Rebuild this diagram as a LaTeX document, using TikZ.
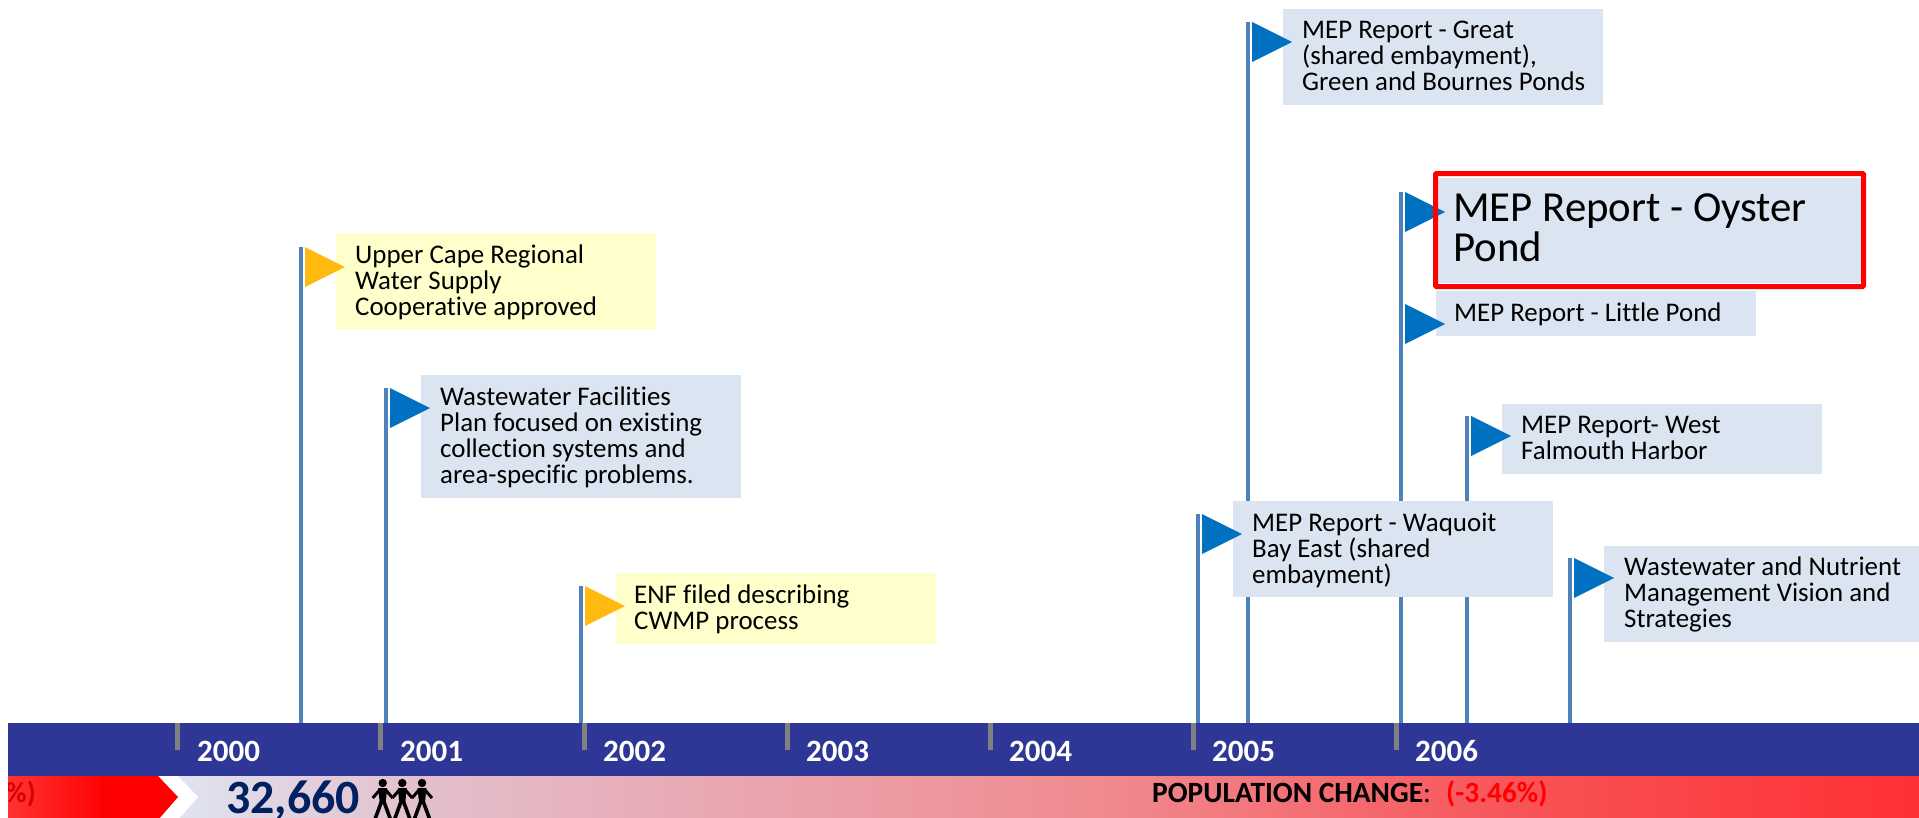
\documentclass[tikz,border=0pt]{standalone}
\usepackage{fontspec}
\setmainfont[Ligatures=NoCommon]{Carlito}
\definecolor{barblue}{HTML}{2E3696}
\definecolor{poleblue}{HTML}{4F81BD}
\definecolor{flagblue}{HTML}{0070C0}
\definecolor{flagyellow}{HTML}{FFB90F}
\definecolor{boxblue}{HTML}{DBE5F1}
\definecolor{boxyellow}{HTML}{FFFFCC}
\definecolor{popnavy}{HTML}{002060}
\tikzset{
	tagbox/.style={anchor=north west, inner sep=0, outer sep=0},
	tagtext/.style={anchor=base west, inner sep=0, align=left, font=\fontsize{26.9}{25.7}\selectfont},
	pole/.style={poleblue, line width=4.5pt},
	tick/.style={gray, line width=5pt},
	year/.style={anchor=base west, inner sep=0, text=white, font=\fontsize{31}{31}\selectfont\bfseries},
	walker/.pic={
		\fill[black] (0,0) circle (4.2);
		\fill[black] (-4.5,5)--(4.5,5)--(2.8,21)--(-2.8,21)--cycle;
		\draw[black, line width=3pt] (-10,15)--(-3,7);
		\draw[black, line width=3pt] (10,15)--(3,7);
		\draw[black, line width=3.6pt] (-8,37)--(-1,18);
		\draw[black, line width=3.6pt] (8,37)--(1,18);
	}
}
\begin{document}
\begin{tikzpicture}[x=1pt, y=-1pt]
		\useasboundingbox (0,0) rectangle (1919,817);

		%% population strip
		\shade[left color=red!80!white, right color=red] (8,776) rectangle (110,820);
		\fill[red] (109,776) rectangle (160,820);
		\shade[left color={rgb,255:red,224;green,228;blue,242}, right color={rgb,255:red,227;green,190;blue,203}] (170,776) rectangle (430,820);
		\shade[left color={rgb,255:red,227;green,190;blue,203}, right color={rgb,255:red,240;green,138;blue,144}] (430,776) rectangle (1100,820);
		\shade[left color={rgb,255:red,240;green,138;blue,144}, right color={rgb,255:red,248;green,80;blue,84}] (1100,776) rectangle (1550,820);
		\shade[left color={rgb,255:red,248;green,80;blue,84}, right color={rgb,255:red,255;green,48;blue,53}] (1550,776) rectangle (1919,820);
		\fill[white] (158,776)--(178,776)--(198,797)--(178,820)--(158,820)--(178,797)--cycle;
		\fill[red] (100,776)--(158,776)--(178,797)--(158,820)--(100,820)--cycle;
		\begin{scope}
			\clip (8,776) rectangle (60,820);
			\node[anchor=base east, inner sep=0, text=red!85!black, font=\fontsize{29}{29}\selectfont\bfseries] at (36,802)(oldchange){\%)};
		\end{scope}
		\node[anchor=base west, inner sep=0, text=popnavy, font=\fontsize{47.8}{47.8}\selectfont\bfseries] at (226,813)(count){32,660};
		\pic at (382.7,783){walker};
		\pic at (402.3,783){walker};
		\pic at (422,783){walker};
		\node[anchor=base west, inner sep=0, font=\fontsize{29.4}{29.4}\selectfont] at (1152,802)(change){\textbf{POPULATION CHANGE}:};
		\node[anchor=base west, inner sep=0, text=red, font=\fontsize{29.4}{29.4}\selectfont\bfseries] at (1446,802)(rate){(-3.46\%)};

		%% time bar
		\node[tagbox, fill=barblue, minimum width=1911pt, minimum height=53pt] at (8,723)(bar){};
		\draw[tick] (177.5,723)--(177.5,750);
		\draw[tick] (380.5,723)--(380.5,750);
		\draw[tick] (584,723)--(584,750);
		\draw[tick] (787,723)--(787,750);
		\draw[tick] (990,723)--(990,750);
		\draw[tick] (1193,723)--(1193,750);
		\draw[tick] (1396,723)--(1396,750);
		\node[year] at (197,761)(y2000){2000};
		\node[year] at (400,761)(y2001){2001};
		\node[year] at (603,761)(y2002){2002};
		\node[year] at (806,761)(y2003){2003};
		\node[year] at (1009,761)(y2004){2004};
		\node[year] at (1212,761)(y2005){2005};
		\node[year] at (1415,761)(y2006){2006};

		%% poles
		\coordinate (p1) at (301,247);
		\coordinate (p2) at (386,388);
		\coordinate (p3) at (581,586);
		\coordinate (p4) at (1198,514);
		\coordinate (p5) at (1248,22);
		\coordinate (p6) at (1401,192);
		\coordinate (p6b) at (1401,304);
		\coordinate (p7) at (1467,416);
		\coordinate (p8) at (1570,558);
		\draw[pole] (p1)--(p1 |- bar.north);
		\draw[pole] (p2)--(p2 |- bar.north);
		\draw[pole] (p3)--(p3 |- bar.north);
		\draw[pole] (p4)--(p4 |- bar.north);
		\draw[pole] (p5)--(p5 |- bar.north);
		\draw[pole] (p6)--(p6 |- bar.north);
		\draw[pole] (p7)--(p7 |- bar.north);
		\draw[pole] (p8)--(p8 |- bar.north);

		%% upper cape
		\node[tagbox, fill=boxyellow, minimum width=320pt, minimum height=96pt] at (336,233)(cape){};
		\node[tagtext] at (355,315)(capetext){Upper Cape Regional\\Water Supply\\Cooperative approved};
		\fill[flagyellow] (p1)++(4,0)--++(40,20)--++(-40,20)--cycle;

		%% facilities plan
		\node[tagbox, fill=boxblue, minimum width=320pt, minimum height=123pt] at (421,375)(plan){};
		\node[tagtext] at (440,483)(plantext){Wastewater Facilities\\Plan focused on existing\\collection systems and\\area-specific problems.};
		\fill[flagblue] (p2)++(4,0)--++(40,20)--++(-40,20)--cycle;

		%% enf
		\node[tagbox, fill=boxyellow, minimum width=320pt, minimum height=71pt] at (616,573)(enf){};
		\node[tagtext] at (634,629)(enftext){ENF filed describing\\CWMP process};
		\fill[flagyellow] (p3)++(4,0)--++(40,20)--++(-40,20)--cycle;

		%% waquoit
		\node[tagbox, fill=boxblue, minimum width=320pt, minimum height=96pt] at (1233,501)(waquoit){};
		\node[tagtext] at (1252,583)(waquoittext){MEP Report - Waquoit\\Bay East (shared\\embayment)};
		\fill[flagblue] (p4)++(4,0)--++(40,20)--++(-40,20)--cycle;

		%% great
		\node[tagbox, fill=boxblue, minimum width=320pt, minimum height=96pt] at (1283,9)(great){};
		\node[tagtext] at (1302,90)(greattext){MEP Report - Great\\(shared embayment),\\Green and Bournes Ponds};
		\fill[flagblue] (p5)++(4,0)--++(40,20)--++(-40,20)--cycle;

		%% oyster
		\node[tagbox, fill=boxblue, minimum width=428pt, minimum height=105pt] at (1436,178)(oyster){};
		\fill[flagblue] (p6)++(4,0)--++(40,20)--++(-40,20)--cycle;
		\draw[red, line width=5pt, rounded corners=1] (1435.5,173.5) rectangle (1863.5,286.5);
		\node[tagtext, font=\fontsize{42.8}{40}\selectfont] at (1453,261)(oystertext){MEP Report - Oyster\\Pond};

		%% little pond
		\node[tagbox, fill=boxblue, minimum width=320pt, minimum height=45pt] at (1436,291)(little){};
		\node[tagtext] at (1454,321)(littletext){MEP Report - Little Pond};
		\fill[flagblue] (p6b)++(4,0)--++(40,20)--++(-40,20)--cycle;

		%% west falmouth
		\node[tagbox, fill=boxblue, minimum width=320pt, minimum height=70pt] at (1502,404)(west){};
		\node[tagtext] at (1521,459)(westtext){MEP Report- West\\Falmouth Harbor};
		\fill[flagblue] (p7)++(4,0)--++(40,20)--++(-40,20)--cycle;

		%% vision
		\node[tagbox, fill=boxblue, minimum width=320pt, minimum height=96pt] at (1604,546)(vision){};
		\node[tagtext] at (1624,627)(visiontext){Wastewater and Nutrient\\Management Vision and\\Strategies};
		\fill[flagblue] (p8)++(4,0)--++(40,20)--++(-40,20)--cycle;
	\end{tikzpicture}
\end{document}
